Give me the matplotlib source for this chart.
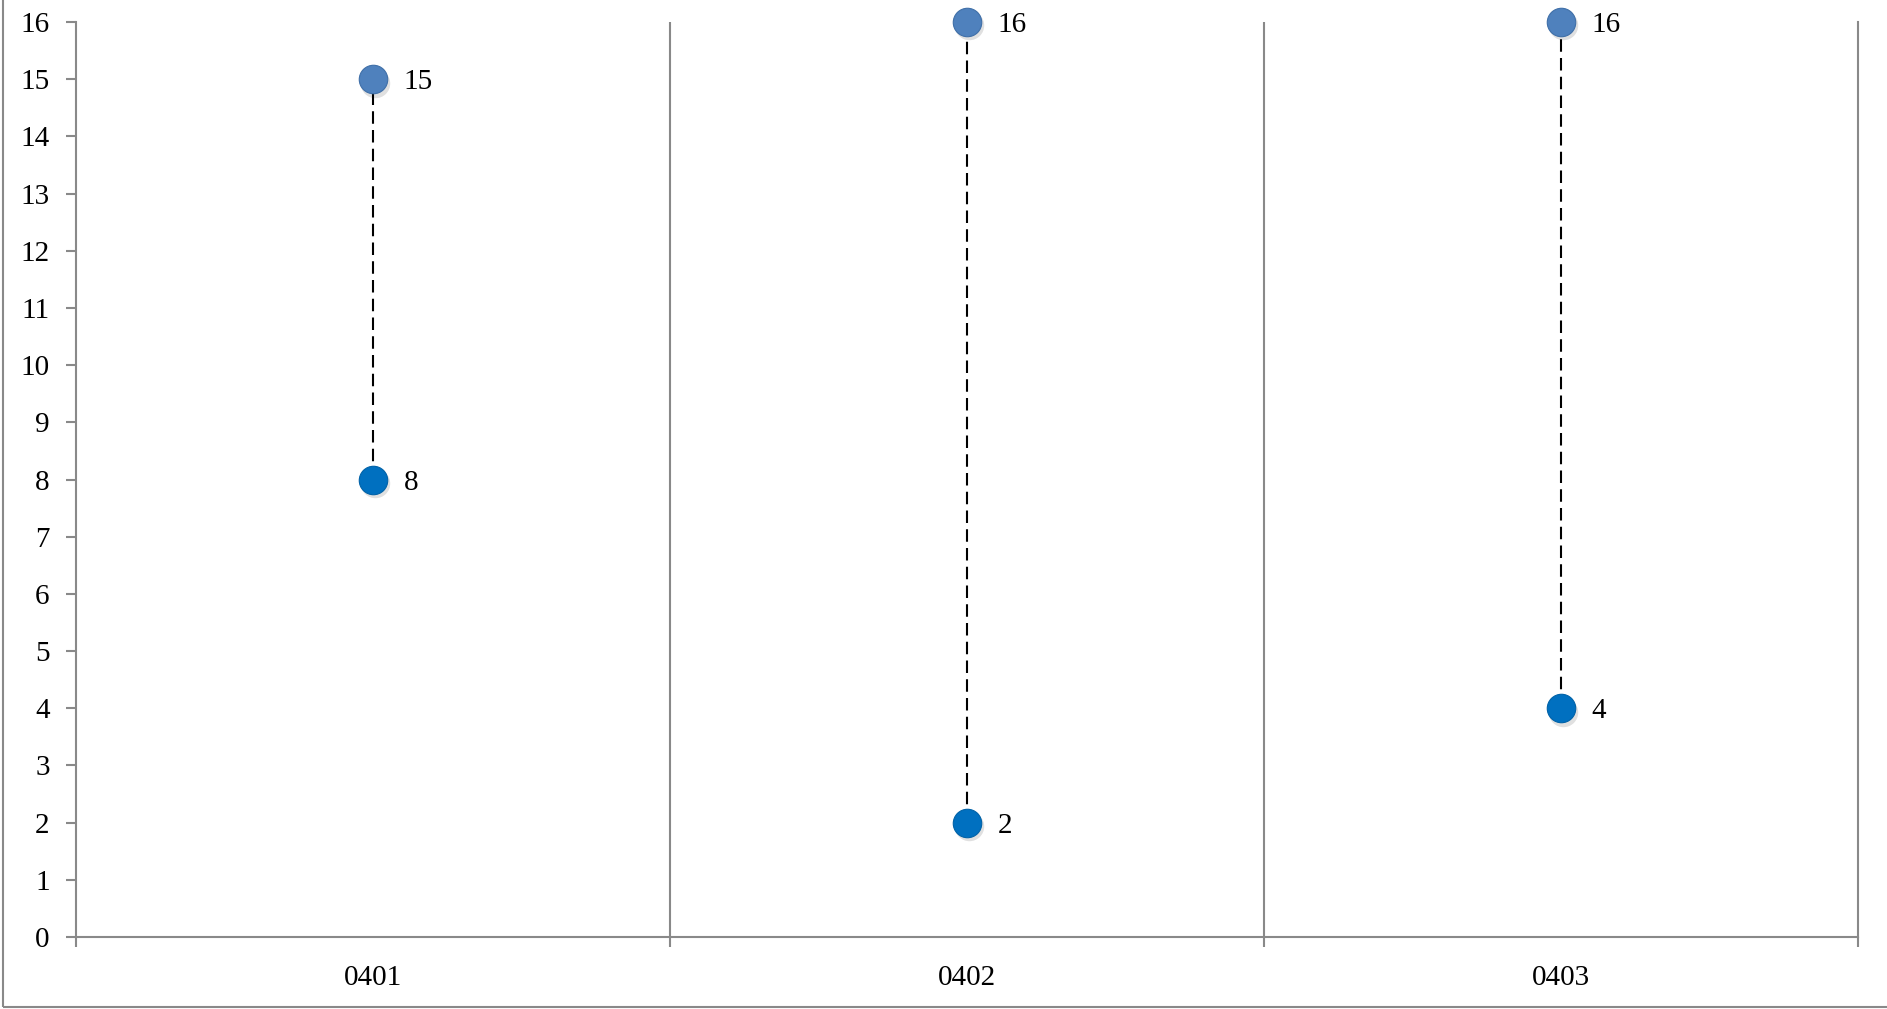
import numpy as np
import matplotlib
matplotlib.use('Agg')
import matplotlib.pyplot as plt
from matplotlib.patches import Rectangle

# data
categories = ['0401', '0402', '0403']
high_vals = [15, 16, 16]
low_vals = [8, 2, 4]

high_color = '#4F81BD'
low_color = '#0070C0'
axis_gray = '#898989'

plt.rcParams['font.family'] = ['Liberation Serif', 'DejaVu Serif']

fig = plt.figure(figsize=(18.87, 10.09), dpi=100)
ax = fig.add_axes([76/1887, 72/1009, 1782/1887, 915/1009])

x = np.arange(len(categories))

# dashed connectors
for xi, lo, hi in zip(x, low_vals, high_vals):
    ax.plot([xi, xi], [lo, hi], color='black', lw=1.5, ls=(0, (6, 3)), zorder=2)

# soft shadow under markers
for vals in (high_vals, low_vals):
    ax.scatter(x + 0.004, np.array(vals) - 0.06, s=450, color='#000000', alpha=0.12,
               lw=0, zorder=3, clip_on=False)

ax.scatter(x, high_vals, s=420, color=high_color, edgecolor='#3F6FA8', lw=0.8,
           zorder=4, clip_on=False)
ax.scatter(x, low_vals, s=420, color=low_color, edgecolor='#0062A8', lw=0.8,
           zorder=4, clip_on=False)

# data labels
for xi, v in zip(x, high_vals):
    ax.annotate(str(v), (xi, v), xytext=(22, 0), textcoords='offset points',
                va='center_baseline', ha='left', fontsize=21, zorder=5)
for xi, v in zip(x, low_vals):
    ax.annotate(str(v), (xi, v), xytext=(22, 0), textcoords='offset points',
                va='center_baseline', ha='left', fontsize=21, zorder=5)

# category separators
for b in [0.5, 1.5]:
    ax.axvline(b, color=axis_gray, lw=1.5, zorder=1)

ax.set_xlim(-0.5, 2.5)
ax.set_ylim(0, 16)
ax.set_yticks(range(0, 17))
ax.set_xticks(x)
ax.set_xticklabels(categories)
ax.set_xticks([-0.5, 0.5, 1.5, 2.5], minor=True)

ax.tick_params(axis='y', length=7, width=1.5, color=axis_gray, pad=12, labelsize=21)
ax.tick_params(axis='x', which='major', length=0, pad=20, labelsize=21)
ax.tick_params(axis='x', which='minor', length=7, width=1.5, color=axis_gray)

ax.spines['top'].set_visible(False)
for s in ['left', 'bottom', 'right']:
    ax.spines[s].set_color(axis_gray)
    ax.spines[s].set_linewidth(1.5)

# outer chart border (cut off on top and right)
fig.patches.append(Rectangle((3/1887, 2/1009), 1.2, 1.2, transform=fig.transFigure,
                             fill=False, edgecolor=axis_gray, lw=1.5))

fig.savefig('out.png', dpi=100)
